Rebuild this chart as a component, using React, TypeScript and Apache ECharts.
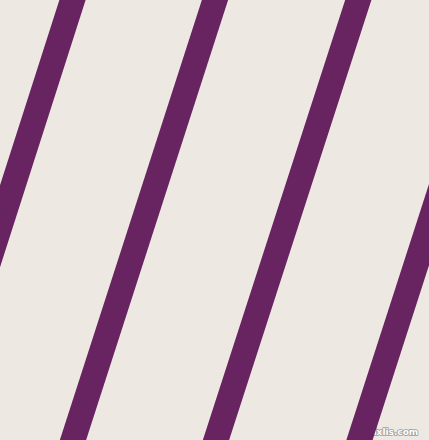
import { useEffect, useRef } from 'react';
import * as echarts from 'echarts';

// stripe centre x at the top (y=0) and bottom (y=440) of the picture
const stripeNames = ['stripe1', 'stripe2', 'stripe3', 'stripe4'];
const topX = [72.5, 215, 358.3, 501.5];
const bottomX = [-68.5, 73, 216, 359.5];
const yEnds = [0, 440];

const BG = '#EEE8E2';
const PURPLE = '#672460';

const App: React.FC = () => {
  const chartRef = useRef<HTMLDivElement>(null);

  useEffect(() => {
    if (!chartRef.current) return;
    document.body.style.margin = '0';
    const chart = echarts.init(chartRef.current, undefined, { renderer: 'svg' });

    const option: echarts.EChartsOption = {
      animation: false,
      backgroundColor: BG,
      grid: { left: 0, right: 0, top: 0, bottom: 0 },
      xAxis: {
        type: 'value',
        min: 0,
        max: 429,
        show: false,
      },
      yAxis: {
        type: 'value',
        min: 0,
        max: 440,
        inverse: true,
        show: false,
      },
      series: stripeNames.map((name, i) => ({
        name,
        type: 'line',
        clip: true,
        symbol: 'none',
        silent: true,
        data: [
          [topX[i], yEnds[0]],
          [bottomX[i], yEnds[1]],
        ],
        // square caps run past the edges; the grid clip trims them flat
        lineStyle: { color: PURPLE, width: 25, cap: 'square' },
      })),
      graphic: [
        {
          type: 'text',
          right: 10,
          bottom: 3,
          style: {
            text: 'pixlis.com',
            fill: '#ffffff',
            stroke: '#9a9a9a',
            lineWidth: 1.5,
            font: 'bold 9px "DejaVu Sans"',
          },
        },
      ],
    };

    chart.setOption(option);
    return () => {
      chart.dispose();
    };
  }, []);

  return (
    <div
      ref={chartRef}
      style={{ position: 'fixed', left: 0, top: 0, width: '429px', height: '440px' }}
    />
  );
};

export default App;
